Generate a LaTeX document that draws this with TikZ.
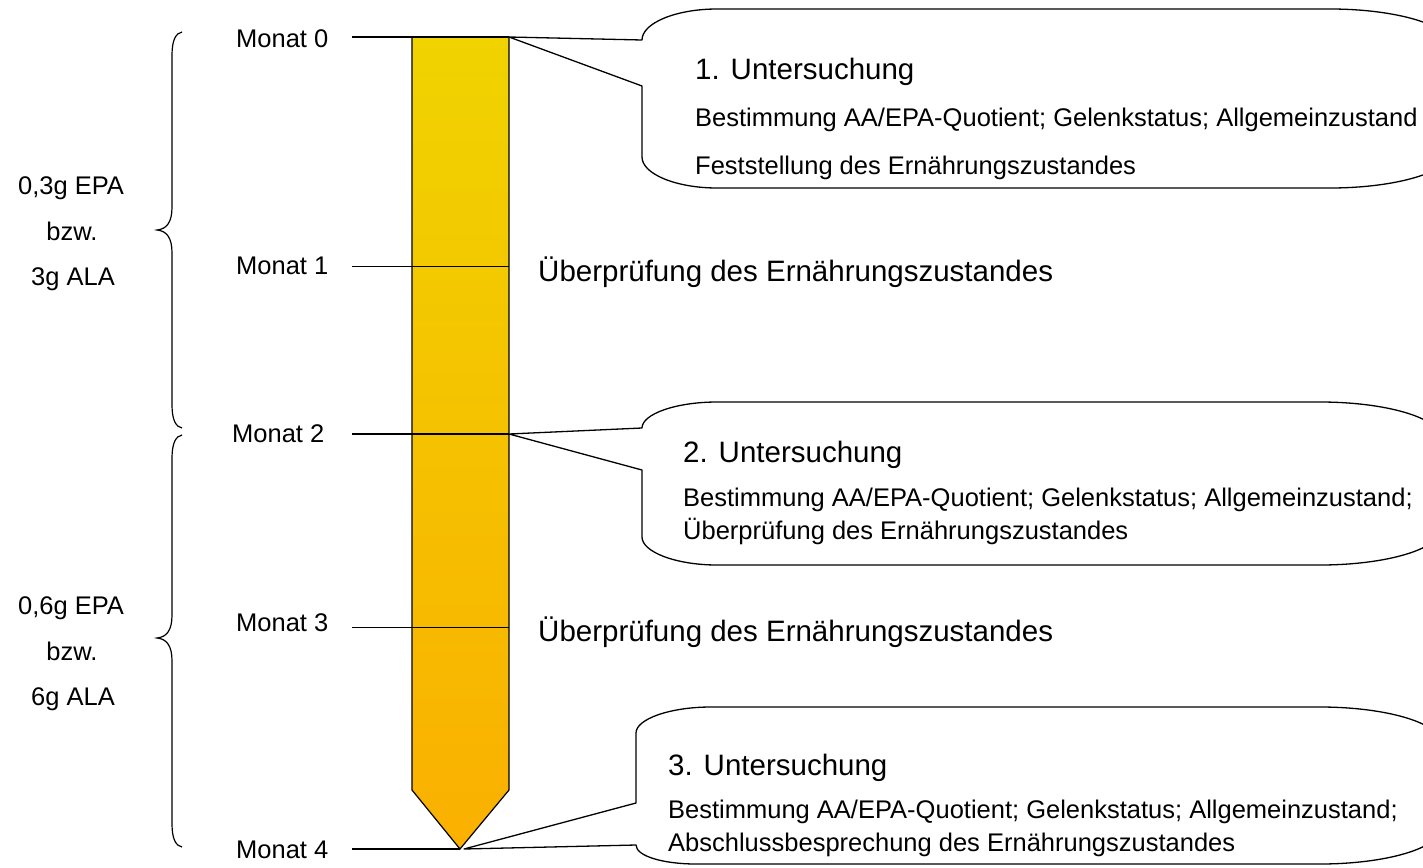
\documentclass[tikz,border=0pt]{standalone}
\usepackage{fontspec}
\setmainfont{Liberation Sans}
\definecolor{bartop}{RGB}{240,211,0}
\definecolor{barbot}{RGB}{250,176,0}
\begin{document}
\begin{tikzpicture}[x=1pt,y=-1pt,
  small/.style={font=\fontsize{25.5}{30}\selectfont, inner sep=0pt},
  big/.style={font=\fontsize{29.5}{34}\selectfont, inner sep=0pt},
  thinmark/.style={line width=1pt},
  boldmark/.style={line width=2.6pt},
  callout/.style={draw, fill=white, line width=1.3pt, line join=round},
  brace/.style={line width=1.2pt},
]
\useasboundingbox (0,0) rectangle (1423,867);
\clip (0,0) rectangle (1423,867);

% time bar with pointed end
\shadedraw[top color=bartop, bottom color=barbot, line width=1.2pt, line join=miter]
  (412,37) coordinate (btl) -- (509,37) coordinate (btr) -- (509,790) coordinate (bbr)
  -- (460,849) coordinate (tip) -- (412,790) coordinate (bbl) -- cycle;
\coordinate (b1) at (509,266);
\coordinate (b2) at (509,434);
\coordinate (b3) at (509,627);

% callout 1 (month 0)
\draw[callout] (btr) -- (642,40) .. controls (642,23) and (676,9) .. (717,9) -- (1330,9)
  .. controls (1396,9) and (1450,25) .. (1450,44) -- (1450,153)
  .. controls (1450,172) and (1396,188) .. (1330,188) -- (717,188)
  .. controls (676,188) and (642,174) .. (642,157) -- (642,86) -- cycle;

% callout 2 (month 2)
\draw[callout] (b2) -- (642,428) .. controls (642,414) and (676,402) .. (717,402) -- (1320,402)
  .. controls (1386,402) and (1440,418) .. (1440,437) -- (1440,530)
  .. controls (1440,549) and (1386,565) .. (1320,565) -- (717,565)
  .. controls (676,565) and (642,552) .. (642,537) -- (642,470) -- cycle;

% callout 3 (month 4)
\draw[callout] (464,849) -- (636,803) -- (636,733) .. controls (636,719) and (670,707) .. (711,707) -- (1320,707)
  .. controls (1386,707) and (1440,723) .. (1440,742) -- (1440,829)
  .. controls (1440,848) and (1386,864) .. (1320,864) -- (696,864)
  .. controls (663,864) and (636,856) .. (636,845) -- cycle;

% month marks
\draw[boldmark] (352,37) coordinate (m0) -- (btr);
\draw[thinmark] (352,266) coordinate (m1) -- (b1);
\draw[boldmark] (352,434) coordinate (m2) -- (b2);
\draw[thinmark] (352,627) coordinate (m3) -- (b3);
\draw[boldmark] (352,849) coordinate (m4) -- (tip);

% month labels
\node[small, anchor=base west] (l0) at (236,48) {Monat 0};
\node[small, anchor=base west] (l1) at (236,274) {Monat 1};
\node[small, anchor=base west] (l2) at (232,442) {Monat 2};
\node[small, anchor=base west] (l3) at (236,631) {Monat 3};
\node[small, anchor=base west] (l4) at (236,858) {Monat 4};

% dosage braces
\draw[brace] (182,32) .. controls (176,33) and (172,40) .. (172,55) -- (172,207)
  .. controls (172,222) and (167,229) .. (157,230)
  .. controls (167,231) and (172,238) .. (172,253) -- (172,405)
  .. controls (172,420) and (176,427) .. (182,428);
\draw[brace] (182,435) .. controls (176,436) and (172,443) .. (172,458) -- (172,615)
  .. controls (172,630) and (167,637) .. (157,638)
  .. controls (167,639) and (172,646) .. (172,661) -- (172,824)
  .. controls (172,839) and (176,846) .. (182,847);

% dosage labels
\node[small, anchor=base] (d1a) at (71,194) {0,3g EPA};
\node[small, anchor=base] (d1b) at (72,240) {bzw.};
\node[small, anchor=base] (d1c) at (73,285) {3g ALA};
\node[small, anchor=base] (d2a) at (71,614) {0,6g EPA};
\node[small, anchor=base] (d2b) at (72,660) {bzw.};
\node[small, anchor=base] (d2c) at (73,705) {6g ALA};

% checks between examinations
\node[big, anchor=base west] (c1) at (538,281) {Überprüfung des Ernährungszustandes};
\node[big, anchor=base west] (c3) at (538,641) {Überprüfung des Ernährungszustandes};

% examination texts
\node[big, anchor=base west] (u1) at (695,79) {1. Untersuchung};
\node[small, anchor=base west] (u1a) at (695,126) {Bestimmung AA/EPA-Quotient; Gelenkstatus; Allgemeinzustand};
\node[small, anchor=base west] (u1b) at (695,174) {Feststellung des Ernährungszustandes};

\node[big, anchor=base west] (u2) at (683,462) {2. Untersuchung};
\node[small, anchor=base west] (u2a) at (683,506) {Bestimmung AA/EPA-Quotient; Gelenkstatus;\ Allgemeinzustand;};
\node[small, anchor=base west] (u2b) at (683,539) {Überprüfung des Ernährungszustandes};

\node[big, anchor=base west] (u3) at (668,775) {3. Untersuchung};
\node[small, anchor=base west] (u3a) at (668,818) {Bestimmung AA/EPA-Quotient; Gelenkstatus;\ Allgemeinzustand;};
\node[small, anchor=base west] (u3b) at (668,851) {Abschlussbesprechung des Ernährungszustandes};
\end{tikzpicture}
\end{document}
